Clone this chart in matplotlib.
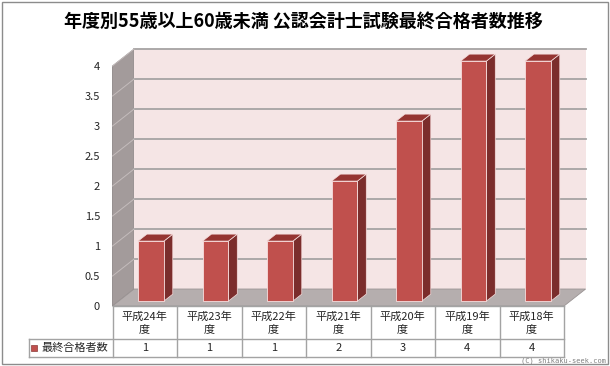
import numpy as np
import matplotlib.pyplot as plt
from matplotlib.patches import Polygon

plt.rcParams['font.family'] = ['Noto Sans CJK JP', 'DejaVu Sans']

# data
title = "年度別55歳以上60歳未満 公認会計士試験最終合格者数推移"
categories = ["平成24年\n度", "平成23年\n度", "平成22年\n度", "平成21年\n度",
              "平成20年\n度", "平成19年\n度", "平成18年\n度"]
values = [1, 1, 1, 2, 3, 4, 4]
series_name = "最終合格者数"
yticks = [0, 0.5, 1, 1.5, 2, 2.5, 3, 3.5, 4]

W, H = 610, 366
fig = plt.figure(figsize=(W / 100, H / 100), dpi=100)
fig.patch.set_facecolor('white')

# front plane of the plot: x in category units, y in values
ax = fig.add_axes([112.5 / W, 60 / H, (564 - 112.5) / W, 240 / H])
ax.set_xlim(-0.5, 6.5)
ax.set_ylim(0, 4)
for s in ax.spines.values():
    s.set_visible(False)
ax.set_xticks([])
ax.set_yticks(yticks)
ax.set_yticklabels([f"{t:g}" for t in yticks])
ax.tick_params(axis='y', length=0, pad=9, labelsize=8, labelcolor='#262626')
ax.patch.set_alpha(0)

# oblique depth in data units
dxu, dyu = 0.335, 0.283
x0, x1 = -0.5, 6.5

# walls
side = Polygon([(x0, 0), (x0 + dxu, dyu), (x0 + dxu, 4 + dyu), (x0, 4)],
               closed=True, fc='#a39b9b', ec='#8c8686', lw=0.6, clip_on=False, zorder=1)
back = Polygon([(x0 + dxu, dyu), (x1 + dxu, dyu), (x1 + dxu, 4 + dyu), (x0 + dxu, 4 + dyu)],
               closed=True, fc='#f5e5e5', ec='none', clip_on=False, zorder=1)
floor = Polygon([(x0, 0), (x1, 0), (x1 + dxu, dyu), (x0 + dxu, dyu)],
                closed=True, fc='#b5aeae', ec='#9a9494', lw=0.6, clip_on=False, zorder=1)
for p in (side, back, floor):
    ax.add_patch(p)

for t in yticks[1:]:
    ax.plot([x0 + dxu, x1 + dxu], [t + dyu, t + dyu], color='#a6a3a3', lw=1.3,
            clip_on=False, zorder=2)
    ax.plot([x0, x0 + dxu], [t, t + dyu], color='#c4bcbc', lw=0.7, clip_on=False, zorder=2)

# bars (fake 3D)
xs = np.arange(len(values))
bw = 0.40
d1, d2 = 0.29, 0.70
ax.bar(xs + d1 * dxu, values, width=bw, bottom=d1 * dyu, color='#c0504d',
       edgecolor='#f7dede', linewidth=0.6, zorder=4, clip_on=False)
for x, v in zip(xs, values):
    xl = x - bw / 2
    xr = x + bw / 2
    sidep = Polygon([(xr + d1 * dxu, d1 * dyu), (xr + d2 * dxu, d2 * dyu),
                     (xr + d2 * dxu, v + d2 * dyu), (xr + d1 * dxu, v + d1 * dyu)],
                    closed=True, fc='#7b2d2c', ec='#f7dede', lw=0.5, zorder=3, clip_on=False)
    topp = Polygon([(xl + d1 * dxu, v + d1 * dyu), (xr + d1 * dxu, v + d1 * dyu),
                    (xr + d2 * dxu, v + d2 * dyu), (xl + d2 * dxu, v + d2 * dyu)],
                   closed=True, fc='#953431', ec='#f7dede', lw=0.5, zorder=3, clip_on=False)
    ax.add_patch(sidep)
    ax.add_patch(topp)

# data table below the floor
r1, r2 = -0.55, -0.85
xl_leg = x0 - 84 / 64.5
lc = '#a3a3a3'
ax.plot([x0, x1], [0, 0], color=lc, lw=1, clip_on=False, zorder=5)
ax.plot([xl_leg, x1], [r1, r1], color=lc, lw=1, clip_on=False, zorder=5)
ax.plot([xl_leg, x1], [r2, r2], color=lc, lw=1, clip_on=False, zorder=5)
ax.plot([xl_leg, xl_leg], [r1, r2], color=lc, lw=1, clip_on=False, zorder=5)
for k in range(len(categories) + 1):
    ax.plot([x0 + k, x0 + k], [0, r2], color=lc, lw=1, clip_on=False, zorder=5)
for x, c, v in zip(xs, categories, values):
    ax.text(x, r1 / 2, c, ha='center', va='center', fontsize=8, linespacing=1.3,
            color='#262626')
    ax.text(x, (r1 + r2) / 2, str(v), ha='center', va='center', fontsize=8,
            color='#262626')
ax.plot([xl_leg + 0.08], [(r1 + r2) / 2], marker='s', markersize=5, color='#c0504d',
        mec='#8c3a38', mew=0.5, clip_on=False, zorder=6)
ax.text(xl_leg + 0.2, (r1 + r2) / 2, series_name, ha='left', va='center', fontsize=8,
        color='#262626')

# title, border, credit
fig.text(0.498, 1 - 21 / H, title, ha='center', va='center', fontsize=13,
         fontweight='bold', color='black')
fig.add_artist(plt.Rectangle((1.5 / W, 2.5 / H), (W - 4) / W, (H - 4.5) / H,
                             transform=fig.transFigure, fill=False, ec='#8c8c8c', lw=1))
fig.text(606 / W, 1 - 361 / H, "(C) shikaku-seek.com", ha='right', va='center',
         fontsize=5, family='DejaVu Sans Mono', color='#808080')

fig.savefig('out.png', dpi=100)
